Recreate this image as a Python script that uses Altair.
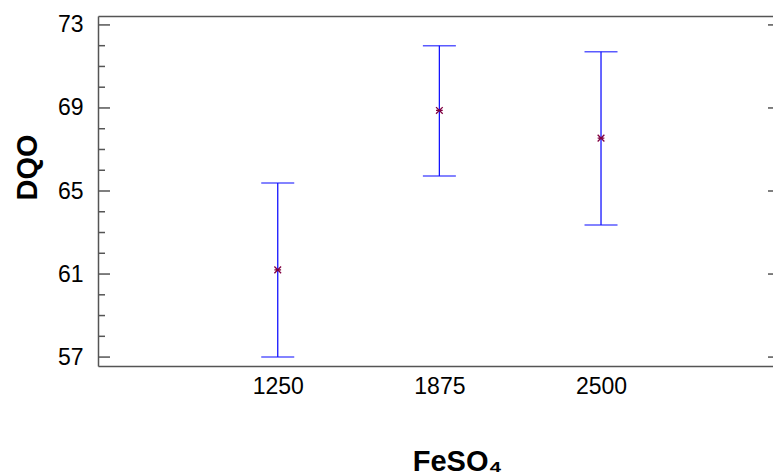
import altair as alt
import pandas as pd

# Data
doses = [1250, 1875, 2500]
means = [61.2, 68.88, 67.55]
lower = [57.0, 65.72, 63.36]
upper = [65.39, 72.0, 71.71]

major_ticks = [57, 61, 65, 69, 73]
minor_ticks = [58, 59, 60, 62, 63, 64, 66, 67, 68, 70, 71, 72]

x_domain = [555, 3165]
y_domain = [56.57, 73.43]

W, H = 675, 350
FRAME = "#555555"
BLUE = "#1414ff"
MARK = "#800040"
LABEL_FONT = "Liberation Sans, Arial, sans-serif"
BOLD = "Liberation Sans, Arial, sans-serif"

df = pd.DataFrame({"dose": doses, "mean": means, "lo": lower, "hi": upper})
df_major = pd.DataFrame({"v": major_ticks})
df_minor = pd.DataFrame({"v": minor_ticks})

xs = alt.Scale(domain=x_domain, nice=False, zero=False)
ys = alt.Scale(domain=y_domain, nice=False, zero=False)

x_axis = alt.Axis(
    values=doses, format="d", ticks=False, tickSize=0, grid=False, domain=True,
    domainColor=FRAME, domainWidth=1.5,
    labelFont=LABEL_FONT, labelFontSize=23, labelColor="black", labelPadding=9,
    title="FeSO₄", titleFont=BOLD, titleFontSize=29, titleFontWeight="bold",
    titleColor="black", titleX=359, titleY=104, titleBaseline="alphabetic",
    titleAlign="center",
)
y_axis = alt.Axis(
    values=major_ticks, format="d", ticks=False, tickSize=0, grid=False, domain=True,
    domainColor=FRAME, domainWidth=1.5,
    labelFont=LABEL_FONT, labelFontSize=23, labelColor="black", labelPadding=15,
    title="DQO", titleFont=BOLD, titleFontSize=29, titleFontWeight="bold",
    titleColor="black", titleX=-62, titleY=151, titleBaseline="alphabetic",
    titleAlign="center", titleAngle=270,
)

base = alt.Chart(df)

bars = base.mark_rule(color=BLUE, strokeWidth=1.3).encode(
    x=alt.X("dose:Q", scale=xs, axis=x_axis),
    y=alt.Y("lo:Q", scale=ys, axis=y_axis),
    y2="hi:Q",
)
cap_lo = base.mark_tick(color=BLUE, orient="horizontal", size=33, thickness=1.5).encode(
    x=alt.X("dose:Q", scale=xs, axis=None), y=alt.Y("lo:Q", scale=ys)
)
cap_hi = base.mark_tick(color=BLUE, orient="horizontal", size=33, thickness=1.5).encode(
    x=alt.X("dose:Q", scale=xs, axis=None), y=alt.Y("hi:Q", scale=ys)
)
pts = base.mark_point(
    shape="M-1,-1L1,1M-1,1L1,-1M-1,0L1,0",
    size=45, filled=False, strokeWidth=1.3, color=MARK, opacity=1,
).encode(
    x=alt.X("dose:Q", scale=xs, axis=None),
    y=alt.Y("mean:Q", scale=ys),
)

# top frame line through a second x axis
top = alt.Chart(df).mark_point(opacity=0).encode(
    x=alt.X("dose:Q", scale=xs, axis=alt.Axis(
        orient="top", labels=False, ticks=False, tickSize=0, grid=False,
        domain=True, domainColor=FRAME, domainWidth=1.5, title=None)),
    y=alt.Y("mean:Q", scale=ys),
)

tick_major_left = alt.Chart(df_major).mark_rule(color=FRAME, strokeWidth=1.5).encode(
    y=alt.Y("v:Q", scale=ys), x=alt.value(0), x2=alt.value(12)
)
tick_minor_left = alt.Chart(df_minor).mark_rule(color=FRAME, strokeWidth=1.5).encode(
    y=alt.Y("v:Q", scale=ys), x=alt.value(0), x2=alt.value(7)
)
tick_major_right = alt.Chart(df_major).mark_rule(color=FRAME, strokeWidth=1.5).encode(
    y=alt.Y("v:Q", scale=ys), x=alt.value(W - 5), x2=alt.value(W)
)

chart = alt.layer(
    bars, cap_lo, cap_hi, pts, top,
    tick_major_left, tick_minor_left, tick_major_right,
).resolve_axis(x="independent").properties(
    width=W, height=H,
    autosize=alt.AutoSizeParams(type="none"),
    padding={"left": 98, "top": 16, "right": 0, "bottom": 110},
    background="white",
).configure_view(stroke=None)

chart.save("out.html", embed_options={"renderer": "svg", "actions": False})
